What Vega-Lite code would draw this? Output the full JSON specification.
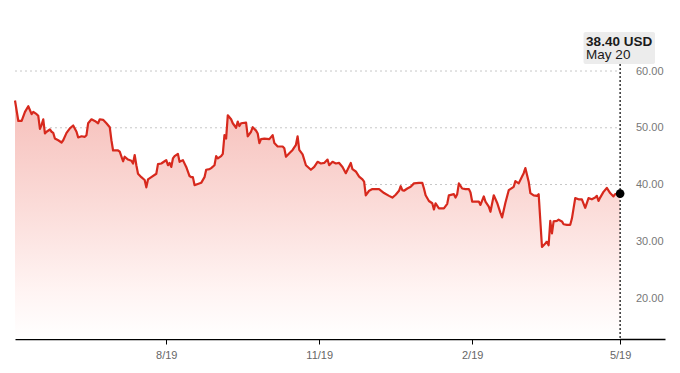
{
  "$schema": "https://vega.github.io/schema/vega-lite/v6.json",
  "width": 650,
  "height": 311,
  "autosize": "none",
  "padding": {"left": 15, "top": 28, "right": 15, "bottom": 34},
  "background": "#ffffff",
  "config": {"view": {"stroke": null}, "font": "Liberation Sans"},
  "datasets": {
    "prices": [
      {"date": "2018-05-21", "price": 54.8}, {"date": "2018-05-23", "price": 51.2}, {"date": "2018-05-25", "price": 51.2},
      {"date": "2018-05-27", "price": 52.8}, {"date": "2018-05-29", "price": 53.8}, {"date": "2018-05-31", "price": 52.4},
      {"date": "2018-06-01", "price": 52.8}, {"date": "2018-06-03", "price": 52.4}, {"date": "2018-06-04", "price": 52.1},
      {"date": "2018-06-05", "price": 49.8}, {"date": "2018-06-06", "price": 50.5}, {"date": "2018-06-07", "price": 51.5},
      {"date": "2018-06-08", "price": 49.0}, {"date": "2018-06-09", "price": 49.3}, {"date": "2018-06-11", "price": 49.7},
      {"date": "2018-06-12", "price": 49.3}, {"date": "2018-06-13", "price": 49.1}, {"date": "2018-06-14", "price": 48.1},
      {"date": "2018-06-16", "price": 47.8}, {"date": "2018-06-18", "price": 47.4}, {"date": "2018-06-19", "price": 47.8},
      {"date": "2018-06-21", "price": 49.1}, {"date": "2018-06-23", "price": 49.9}, {"date": "2018-06-25", "price": 50.4},
      {"date": "2018-06-27", "price": 49.3}, {"date": "2018-06-28", "price": 48.3}, {"date": "2018-06-30", "price": 48.5},
      {"date": "2018-07-02", "price": 48.4}, {"date": "2018-07-03", "price": 48.7}, {"date": "2018-07-04", "price": 50.8},
      {"date": "2018-07-06", "price": 51.5}, {"date": "2018-07-08", "price": 51.2}, {"date": "2018-07-10", "price": 50.8},
      {"date": "2018-07-11", "price": 51.5}, {"date": "2018-07-13", "price": 51.4}, {"date": "2018-07-15", "price": 50.8},
      {"date": "2018-07-17", "price": 50.1}, {"date": "2018-07-18", "price": 47.8}, {"date": "2018-07-19", "price": 46.0},
      {"date": "2018-07-22", "price": 46.0}, {"date": "2018-07-23", "price": 45.8}, {"date": "2018-07-25", "price": 44.1},
      {"date": "2018-07-26", "price": 44.9}, {"date": "2018-07-28", "price": 44.4}, {"date": "2018-07-30", "price": 44.2},
      {"date": "2018-07-31", "price": 43.7}, {"date": "2018-08-01", "price": 45.2}, {"date": "2018-08-02", "price": 43.4},
      {"date": "2018-08-03", "price": 41.9}, {"date": "2018-08-05", "price": 41.3}, {"date": "2018-08-07", "price": 40.8},
      {"date": "2018-08-08", "price": 39.5}, {"date": "2018-08-09", "price": 40.9}, {"date": "2018-08-11", "price": 41.3},
      {"date": "2018-08-14", "price": 41.9}, {"date": "2018-08-15", "price": 43.6}, {"date": "2018-08-17", "price": 43.7},
      {"date": "2018-08-19", "price": 44.1}, {"date": "2018-08-20", "price": 44.3}, {"date": "2018-08-21", "price": 43.4},
      {"date": "2018-08-22", "price": 43.8}, {"date": "2018-08-23", "price": 43.1}, {"date": "2018-08-24", "price": 44.6},
      {"date": "2018-08-25", "price": 45.0}, {"date": "2018-08-27", "price": 45.4}, {"date": "2018-08-28", "price": 44.0},
      {"date": "2018-08-30", "price": 44.3}, {"date": "2018-09-01", "price": 43.1}, {"date": "2018-09-03", "price": 41.5},
      {"date": "2018-09-04", "price": 41.3}, {"date": "2018-09-05", "price": 41.3}, {"date": "2018-09-06", "price": 39.9},
      {"date": "2018-09-08", "price": 40.1}, {"date": "2018-09-10", "price": 40.3}, {"date": "2018-09-12", "price": 41.3},
      {"date": "2018-09-13", "price": 42.6}, {"date": "2018-09-15", "price": 42.7}, {"date": "2018-09-16", "price": 42.9},
      {"date": "2018-09-18", "price": 43.4}, {"date": "2018-09-19", "price": 45.0}, {"date": "2018-09-20", "price": 44.6},
      {"date": "2018-09-22", "price": 45.0}, {"date": "2018-09-23", "price": 45.4}, {"date": "2018-09-24", "price": 48.7},
      {"date": "2018-09-25", "price": 48.1}, {"date": "2018-09-26", "price": 52.2}, {"date": "2018-09-28", "price": 51.5},
      {"date": "2018-09-29", "price": 50.8}, {"date": "2018-10-01", "price": 50.0}, {"date": "2018-10-02", "price": 51.1},
      {"date": "2018-10-03", "price": 50.3}, {"date": "2018-10-04", "price": 50.8}, {"date": "2018-10-07", "price": 50.9},
      {"date": "2018-10-08", "price": 48.5}, {"date": "2018-10-10", "price": 49.3}, {"date": "2018-10-11", "price": 50.1},
      {"date": "2018-10-13", "price": 49.5}, {"date": "2018-10-14", "price": 49.0}, {"date": "2018-10-15", "price": 47.3},
      {"date": "2018-10-16", "price": 48.0}, {"date": "2018-10-18", "price": 48.1}, {"date": "2018-10-21", "price": 48.0},
      {"date": "2018-10-23", "price": 48.7}, {"date": "2018-10-24", "price": 47.3}, {"date": "2018-10-26", "price": 46.7},
      {"date": "2018-10-29", "price": 46.7}, {"date": "2018-10-30", "price": 46.4}, {"date": "2018-10-31", "price": 44.9},
      {"date": "2018-11-02", "price": 45.5}, {"date": "2018-11-04", "price": 46.1}, {"date": "2018-11-06", "price": 47.0},
      {"date": "2018-11-07", "price": 48.5}, {"date": "2018-11-08", "price": 46.1}, {"date": "2018-11-10", "price": 45.3},
      {"date": "2018-11-12", "price": 43.4}, {"date": "2018-11-15", "price": 42.6}, {"date": "2018-11-17", "price": 43.1},
      {"date": "2018-11-19", "price": 44.0}, {"date": "2018-11-21", "price": 43.7}, {"date": "2018-11-23", "price": 43.8},
      {"date": "2018-11-25", "price": 44.4}, {"date": "2018-11-26", "price": 43.4}, {"date": "2018-11-28", "price": 44.0},
      {"date": "2018-11-30", "price": 43.7}, {"date": "2018-12-02", "price": 43.8}, {"date": "2018-12-04", "price": 43.1},
      {"date": "2018-12-06", "price": 42.0}, {"date": "2018-12-09", "price": 43.8}, {"date": "2018-12-10", "price": 42.7},
      {"date": "2018-12-12", "price": 42.3}, {"date": "2018-12-14", "price": 41.4}, {"date": "2018-12-16", "price": 40.9},
      {"date": "2018-12-17", "price": 40.5}, {"date": "2018-12-18", "price": 38.1}, {"date": "2018-12-20", "price": 38.9},
      {"date": "2018-12-22", "price": 39.2}, {"date": "2018-12-26", "price": 39.2}, {"date": "2018-12-29", "price": 38.5},
      {"date": "2019-01-01", "price": 38.0}, {"date": "2019-01-03", "price": 37.7}, {"date": "2019-01-05", "price": 38.2},
      {"date": "2019-01-07", "price": 38.9}, {"date": "2019-01-08", "price": 39.7}, {"date": "2019-01-09", "price": 39.0},
      {"date": "2019-01-10", "price": 38.9}, {"date": "2019-01-12", "price": 39.3}, {"date": "2019-01-14", "price": 39.6},
      {"date": "2019-01-16", "price": 40.2}, {"date": "2019-01-19", "price": 40.3}, {"date": "2019-01-21", "price": 40.3},
      {"date": "2019-01-22", "price": 39.3}, {"date": "2019-01-23", "price": 38.1}, {"date": "2019-01-25", "price": 37.1},
      {"date": "2019-01-27", "price": 36.7}, {"date": "2019-01-28", "price": 35.6}, {"date": "2019-01-29", "price": 36.7},
      {"date": "2019-01-31", "price": 35.8}, {"date": "2019-02-03", "price": 35.8}, {"date": "2019-02-05", "price": 36.6},
      {"date": "2019-02-06", "price": 38.1}, {"date": "2019-02-09", "price": 38.3}, {"date": "2019-02-10", "price": 37.7},
      {"date": "2019-02-11", "price": 38.3}, {"date": "2019-02-12", "price": 40.2}, {"date": "2019-02-14", "price": 39.3},
      {"date": "2019-02-16", "price": 39.2}, {"date": "2019-02-18", "price": 39.2}, {"date": "2019-02-19", "price": 38.6},
      {"date": "2019-02-20", "price": 37.0}, {"date": "2019-02-22", "price": 37.0}, {"date": "2019-02-24", "price": 37.0},
      {"date": "2019-02-25", "price": 36.4}, {"date": "2019-02-27", "price": 37.9}, {"date": "2019-02-28", "price": 37.0},
      {"date": "2019-03-02", "price": 36.1}, {"date": "2019-03-03", "price": 35.2}, {"date": "2019-03-05", "price": 38.1},
      {"date": "2019-03-07", "price": 36.8}, {"date": "2019-03-09", "price": 35.0}, {"date": "2019-03-10", "price": 34.2},
      {"date": "2019-03-12", "price": 36.8}, {"date": "2019-03-14", "price": 39.0}, {"date": "2019-03-17", "price": 39.6},
      {"date": "2019-03-18", "price": 40.6}, {"date": "2019-03-20", "price": 40.2}, {"date": "2019-03-22", "price": 41.4},
      {"date": "2019-03-23", "price": 42.0}, {"date": "2019-03-24", "price": 42.9}, {"date": "2019-03-26", "price": 40.5},
      {"date": "2019-03-27", "price": 38.5}, {"date": "2019-03-29", "price": 38.1}, {"date": "2019-03-31", "price": 38.0},
      {"date": "2019-04-01", "price": 38.3}, {"date": "2019-04-03", "price": 29.0}, {"date": "2019-04-05", "price": 29.6},
      {"date": "2019-04-06", "price": 29.9}, {"date": "2019-04-07", "price": 29.3}, {"date": "2019-04-08", "price": 33.6},
      {"date": "2019-04-09", "price": 31.4}, {"date": "2019-04-10", "price": 33.5}, {"date": "2019-04-12", "price": 33.6},
      {"date": "2019-04-13", "price": 33.8}, {"date": "2019-04-15", "price": 33.5}, {"date": "2019-04-16", "price": 33.0},
      {"date": "2019-04-18", "price": 32.9}, {"date": "2019-04-20", "price": 32.9}, {"date": "2019-04-21", "price": 34.0},
      {"date": "2019-04-23", "price": 37.6}, {"date": "2019-04-25", "price": 37.4}, {"date": "2019-04-27", "price": 37.4},
      {"date": "2019-04-29", "price": 35.9}, {"date": "2019-05-01", "price": 37.6}, {"date": "2019-05-03", "price": 37.4},
      {"date": "2019-05-05", "price": 37.7}, {"date": "2019-05-06", "price": 38.0}, {"date": "2019-05-07", "price": 37.1},
      {"date": "2019-05-08", "price": 37.7}, {"date": "2019-05-10", "price": 38.7}, {"date": "2019-05-12", "price": 39.4},
      {"date": "2019-05-14", "price": 38.5}, {"date": "2019-05-16", "price": 37.9}, {"date": "2019-05-17", "price": 38.3},
      {"date": "2019-05-19", "price": 38.3}, {"date": "2019-05-20", "price": 38.4}
    ],
    "grid": [{"g": 20}, {"g": 30}, {"g": 40}, {"g": 50}, {"g": 60}],
    "last": [{"date": "2019-05-20", "price": 38.4, "line1": "38.40 USD", "line2": "May 20"}]
  },
  "layer": [
    {
      "data": {"name": "grid"},
      "mark": {"type": "rule", "color": "#c8c8c8", "strokeWidth": 1, "strokeDash": [2, 3]},
      "encoding": {
        "x": {"datum": {"year": 2018, "month": 5, "date": 21}, "type": "temporal"},
        "x2": {"datum": {"year": 2019, "month": 5, "date": 20}},
        "y": {"field": "g", "type": "quantitative"}
      }
    },
    {
      "data": {"name": "prices"},
      "mark": {
        "type": "area",
        "color": {
          "x1": 1, "y1": 0, "x2": 1, "y2": 1, "gradient": "linear",
          "stops": [
            {"offset": 0, "color": "#f6bfba"},
            {"offset": 0.45, "color": "#fbdcd9"},
            {"offset": 0.8, "color": "#fff4f3"},
            {"offset": 1, "color": "#ffffff"}
          ]
        }
      },
      "encoding": {
        "x": {
          "field": "date", "type": "temporal",
          "scale": {"domain": [{"year": 2018, "month": 5, "date": 21}, {"year": 2019, "month": 6, "date": 16}]},
          "axis": {
            "title": null, "grid": false,
            "values": [{"year": 2018, "month": 8, "date": 20}, {"year": 2018, "month": 11, "date": 20}, {"year": 2019, "month": 2, "date": 20}, {"year": 2019, "month": 5, "date": 20}],
            "labelExpr": "timeFormat(datum.value, '%-m') + '/19'",
            "domainColor": "#000000", "domainWidth": 1.5,
            "tickColor": "#000000", "tickSize": 5, "tickWidth": 1,
            "labelColor": "#666666", "labelFontSize": 11, "labelPadding": 5,
            "labelFont": "Liberation Sans"
          }
        },
        "y": {
          "field": "price", "type": "quantitative",
          "scale": {"domain": [12.78, 67.58], "zero": false, "nice": false},
          "axis": {
            "title": null, "orient": "right", "grid": false, "domain": false,
            "ticks": false, "tickSize": 0, "values": [20, 30, 40, 50, 60], "format": ".2f",
            "labelAlign": "right", "labelPadding": -2, "labelColor": "#777777",
            "labelFontSize": 11, "labelFont": "Liberation Sans", "labelBaseline": "middle"
          }
        },
        "y2": {"datum": 12.78}
      }
    },
    {
      "data": {"name": "prices"},
      "mark": {"type": "line", "color": "#d7291d", "strokeWidth": 2.2, "strokeJoin": "round"},
      "encoding": {
        "x": {"field": "date", "type": "temporal"},
        "y": {"field": "price", "type": "quantitative"}
      }
    },
    {
      "data": {"name": "last"},
      "mark": {"type": "rule", "color": "#000000", "strokeWidth": 1.2, "strokeDash": [2, 2]},
      "encoding": {
        "x": {"field": "date", "type": "temporal"},
        "y": {"datum": 61.23},
        "y2": {"datum": 12.78}
      }
    },
    {
      "data": {"name": "last"},
      "mark": {"type": "rect", "color": "#ececec", "cornerRadius": 2},
      "encoding": {
        "x": {"datum": {"year": 2019, "month": 4, "date": 28}, "type": "temporal"},
        "x2": {"datum": {"year": 2019, "month": 6, "date": 10}},
        "y": {"datum": 66.87},
        "y2": {"datum": 61.23}
      }
    },
    {
      "data": {"name": "last"},
      "mark": {"type": "text", "align": "left", "baseline": "alphabetic", "fontSize": 13.5, "fontWeight": "bold", "color": "#1a1a1a", "dx": -34, "font": "Liberation Sans"},
      "encoding": {
        "x": {"field": "date", "type": "temporal"},
        "y": {"datum": 64.49},
        "text": {"field": "line1"}
      }
    },
    {
      "data": {"name": "last"},
      "mark": {"type": "text", "align": "left", "baseline": "alphabetic", "fontSize": 13.5, "color": "#1a1a1a", "dx": -34, "font": "Liberation Sans"},
      "encoding": {
        "x": {"field": "date", "type": "temporal"},
        "y": {"datum": 62.03},
        "text": {"field": "line2"}
      }
    },
    {
      "data": {"name": "last"},
      "mark": {"type": "point", "filled": true, "color": "#000000", "size": 75, "opacity": 1},
      "encoding": {
        "x": {"field": "date", "type": "temporal"},
        "y": {"field": "price", "type": "quantitative"}
      }
    }
  ]
}
